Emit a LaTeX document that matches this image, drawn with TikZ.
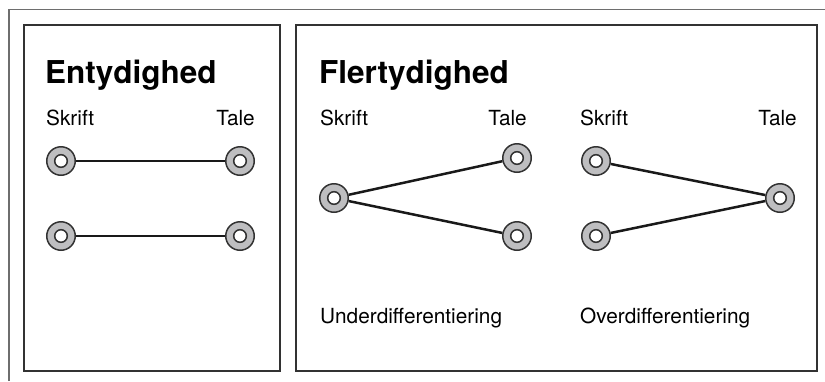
\documentclass[tikz,border=0pt]{standalone}
\usepackage{fontspec}
\setmainfont{TeX Gyre Heros}
\usepackage{tikz}
\usetikzlibrary{positioning}
\definecolor{ringgray}{RGB}{190,190,192}
\definecolor{framegray}{RGB}{110,110,110}
\definecolor{boxgray}{RGB}{50,50,50}

\begin{document}
\begin{tikzpicture}[x=1pt,y=-1pt,
        heading/.style={font=\fontsize{31.5}{36}\selectfont\bfseries, inner sep=0pt},
        caption/.style={font=\fontsize{20.8}{25}\selectfont, inner sep=0pt},
        ring/.style={shape=circle, draw=boxgray, fill=ringgray,
            line width=1.5pt, minimum size=28.5pt, inner sep=0pt,
            path picture={\draw[boxgray, fill=white, line width=1.5pt]
              (path picture bounding box.center) circle (6.3pt);}},
        link/.style={line width=2.5pt, black!90}]
        \useasboundingbox (0,0) rectangle (825,381);
        % frames
        \draw[framegray, line width=1.5pt] (9,381) -- (9,9.5) -- (825,9.5);
        \draw[boxgray, line width=1.5pt] (24,25) rectangle (280,371);
        \draw[boxgray, line width=1.5pt] (296,25) rectangle (817,371);
        % headings and labels
        \node[heading, anchor=base west] (entyd) at (45,83) {Entydighed};
        \node[heading, anchor=base west] (flerty) at (319,83) {Flertydighed};
        \node[caption, anchor=base west] (skriftE) at (46,125) {Skrift};
        \node[caption, anchor=base east] (taleE) at (255,125) {Tale};
        \node[caption, anchor=base west] (skriftU) at (320,125) {Skrift};
        \node[caption, anchor=base east] (taleU) at (527,125) {Tale};
        \node[caption, anchor=base west] (skriftO) at (580,125) {Skrift};
        \node[caption, anchor=base east] (taleO) at (797,125) {Tale};
        \node[caption, anchor=base west] (under) at (320,323) {Underdifferentiering};
        \node[caption, anchor=base west] (over) at (580,323) {Overdifferentiering};
        % entydighed
        \node[ring] (e1) at (61,161) {};
        \node[ring] (e2) at (240,161) {};
        \node[ring] (e3) at (61,236) {};
        \node[ring] (e4) at (240,236) {};
        \draw[link] (e1) -- (e2);
        \draw[link] (e3) -- (e4);
        % underdifferentiering
        \node[ring] (u1) at (334,198) {};
        \node[ring] (u2) at (517,158) {};
        \node[ring] (u3) at (517,236) {};
        \draw[link] (u1) -- (u2);
        \draw[link] (u1) -- (u3);
        % overdifferentiering
        \node[ring] (o1) at (596,161) {};
        \node[ring] (o2) at (596,236) {};
        \node[ring] (o3) at (780,198) {};
        \draw[link] (o1) -- (o3);
        \draw[link] (o2) -- (o3);
    \end{tikzpicture}
\end{document}
